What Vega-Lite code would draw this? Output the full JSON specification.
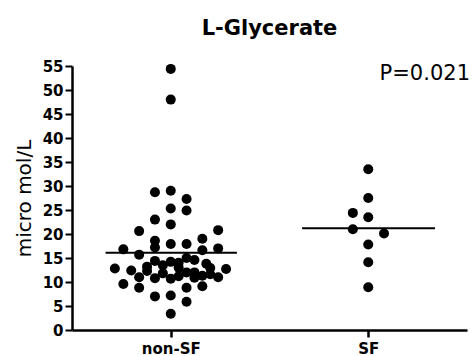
{
  "$schema": "https://vega.github.io/schema/vega-lite/v6.json",
  "width": 395,
  "height": 264,
  "autosize": "none",
  "padding": {"left": 72, "top": 66, "right": 6, "bottom": 26},
  "background": "white",
  "title": {"text": "L-Glycerate", "font": "DejaVu Sans", "fontSize": 21, "fontWeight": "bold", "color": "black", "anchor": "middle", "baseline": "alphabetic", "offset": 3},
  "config": {"view": {"stroke": null}},
  "datasets": {
    "pts": [
      {"group": "non-SF", "xpos": 1.00, "value": 54.4},
      {"group": "non-SF", "xpos": 1.00, "value": 48.0},
      {"group": "non-SF", "xpos": 0.92, "value": 28.7},
      {"group": "non-SF", "xpos": 1.00, "value": 29.0},
      {"group": "non-SF", "xpos": 1.08, "value": 27.3},
      {"group": "non-SF", "xpos": 1.00, "value": 25.3},
      {"group": "non-SF", "xpos": 1.08, "value": 24.9},
      {"group": "non-SF", "xpos": 0.92, "value": 23.0},
      {"group": "non-SF", "xpos": 1.00, "value": 22.0},
      {"group": "non-SF", "xpos": 0.84, "value": 20.6},
      {"group": "non-SF", "xpos": 1.24, "value": 20.8},
      {"group": "non-SF", "xpos": 1.16, "value": 19.0},
      {"group": "non-SF", "xpos": 0.92, "value": 18.6},
      {"group": "non-SF", "xpos": 1.00, "value": 17.9},
      {"group": "non-SF", "xpos": 1.08, "value": 17.9},
      {"group": "non-SF", "xpos": 0.92, "value": 17.2},
      {"group": "non-SF", "xpos": 0.76, "value": 16.8},
      {"group": "non-SF", "xpos": 1.24, "value": 17.0},
      {"group": "non-SF", "xpos": 1.16, "value": 16.6},
      {"group": "non-SF", "xpos": 0.84, "value": 15.7},
      {"group": "non-SF", "xpos": 1.08, "value": 15.0},
      {"group": "non-SF", "xpos": 0.92, "value": 14.4},
      {"group": "non-SF", "xpos": 1.00, "value": 14.2},
      {"group": "non-SF", "xpos": 1.18, "value": 13.8},
      {"group": "non-SF", "xpos": 0.96, "value": 13.5},
      {"group": "non-SF", "xpos": 1.04, "value": 13.0},
      {"group": "non-SF", "xpos": 0.717, "value": 12.8},
      {"group": "non-SF", "xpos": 1.28, "value": 12.7},
      {"group": "non-SF", "xpos": 0.80, "value": 12.4},
      {"group": "non-SF", "xpos": 0.88, "value": 12.3},
      {"group": "non-SF", "xpos": 1.12, "value": 12.0},
      {"group": "non-SF", "xpos": 0.96, "value": 11.8},
      {"group": "non-SF", "xpos": 1.20, "value": 11.6},
      {"group": "non-SF", "xpos": 1.04, "value": 11.2},
      {"group": "non-SF", "xpos": 0.84, "value": 11.0},
      {"group": "non-SF", "xpos": 1.24, "value": 11.0},
      {"group": "non-SF", "xpos": 0.92, "value": 10.8},
      {"group": "non-SF", "xpos": 1.00, "value": 10.7},
      {"group": "non-SF", "xpos": 1.16, "value": 11.3},
      {"group": "non-SF", "xpos": 1.08, "value": 12.0},
      {"group": "non-SF", "xpos": 1.12, "value": 10.9},
      {"group": "non-SF", "xpos": 1.20, "value": 12.9},
      {"group": "non-SF", "xpos": 1.04, "value": 14.0},
      {"group": "non-SF", "xpos": 0.76, "value": 9.6},
      {"group": "non-SF", "xpos": 0.84, "value": 8.8},
      {"group": "non-SF", "xpos": 0.92, "value": 7.0},
      {"group": "non-SF", "xpos": 1.00, "value": 7.2},
      {"group": "non-SF", "xpos": 1.08, "value": 8.8},
      {"group": "non-SF", "xpos": 1.08, "value": 5.9},
      {"group": "non-SF", "xpos": 1.16, "value": 9.1},
      {"group": "non-SF", "xpos": 1.00, "value": 3.4},
      {"group": "non-SF", "xpos": 1.12, "value": 14.6},
      {"group": "non-SF", "xpos": 0.88, "value": 13.2},
      {"group": "SF", "xpos": 2.00, "value": 33.5},
      {"group": "SF", "xpos": 2.00, "value": 27.5},
      {"group": "SF", "xpos": 1.922, "value": 24.4},
      {"group": "SF", "xpos": 2.00, "value": 23.5},
      {"group": "SF", "xpos": 1.922, "value": 21.0},
      {"group": "SF", "xpos": 2.08, "value": 20.1},
      {"group": "SF", "xpos": 2.00, "value": 17.8},
      {"group": "SF", "xpos": 2.00, "value": 14.1},
      {"group": "SF", "xpos": 2.00, "value": 8.9}
    ],
    "means": [
      {"group": "non-SF", "xpos": 0.67, "end": 1.335, "value": 16.1},
      {"group": "SF", "xpos": 1.665, "end": 2.338, "value": 21.2}
    ],
    "note": [
      {"label": "P=0.021", "xpos": 2.5, "value": 53.3}
    ]
  },
  "encoding": {
    "x": {
      "field": "xpos", "type": "quantitative",
      "scale": {"domain": [0.5, 2.5], "nice": false, "zero": false},
      "axis": {
        "title": null, "grid": false, "values": [1, 2],
        "labelExpr": "datum.value == 1 ? 'non-SF' : 'SF'",
        "labelFont": "DejaVu Sans", "labelFontSize": 15, "labelFontWeight": "bold", "labelColor": "black",
        "tickSize": 7, "tickWidth": 2.5, "tickColor": "black",
        "domainColor": "black", "domainWidth": 2.5, "labelPadding": 4
      }
    },
    "y": {
      "field": "value", "type": "quantitative",
      "scale": {"domain": [0, 55], "nice": false, "zero": true},
      "axis": {
        "title": "micro mol/L", "titleFont": "DejaVu Sans", "titleFontSize": 20, "titleFontWeight": "normal", "titleColor": "black", "titlePadding": 8,
        "grid": false, "values": [0, 5, 10, 15, 20, 25, 30, 35, 40, 45, 50, 55], "labelOverlap": false,
        "labelFont": "DejaVu Sans", "labelFontSize": 15, "labelFontWeight": "bold", "labelColor": "black",
        "tickSize": 7, "tickWidth": 2, "tickColor": "black",
        "domainColor": "black", "domainWidth": 2.5, "labelPadding": 2
      }
    }
  },
  "layer": [
    {
      "data": {"name": "pts"},
      "mark": {"type": "circle", "size": 100, "color": "black", "opacity": 1}
    },
    {
      "data": {"name": "means"},
      "mark": {"type": "rule", "color": "black", "strokeWidth": 2},
      "encoding": {
        "x2": {"field": "end"}
      }
    },
    {
      "data": {"name": "note"},
      "mark": {"type": "text", "font": "DejaVu Sans", "fontSize": 21, "color": "black", "align": "right", "baseline": "middle", "dx": 3},
      "encoding": {
        "text": {"field": "label"}
      }
    }
  ]
}
